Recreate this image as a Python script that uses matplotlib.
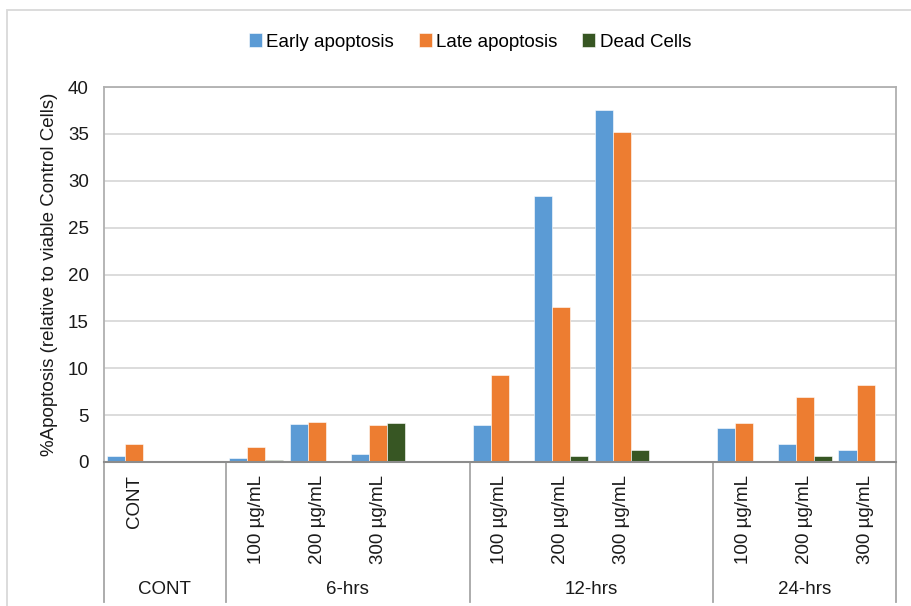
import matplotlib.pyplot as plt
import numpy as np

plt.rcParams['font.family'] = ['Liberation Sans', 'DejaVu Sans']

# categories (blank slots between groups, like the Excel sheet)
doses = ['CONT', '', '100 µg/mL', '200 µg/mL', '300 µg/mL', '',
         '100 µg/mL', '200 µg/mL', '300 µg/mL', '',
         '100 µg/mL', '200 µg/mL', '300 µg/mL']
groups = ['CONT', '6-hrs', '12-hrs', '24-hrs']
group_edges = [-0.5, 1.5, 5.5, 9.5, 12.5]

early = [0.6, 0, 0.4, 4.1, 0.9, 0, 3.95, 28.4, 37.5, 0, 3.6, 1.9, 1.25]
late = [1.95, 0, 1.55, 4.3, 3.9, 0, 9.3, 16.5, 35.2, 0, 4.15, 6.95, 8.2]
dead = [0, 0, 0.2, 0.1, 4.15, 0, 0, 0.6, 1.3, 0, 0, 0.6, 0]

series = [('Early apoptosis', early, '#5B9BD5'),
          ('Late apoptosis', late, '#ED7D31'),
          ('Dead Cells', dead, '#375623')]

fig = plt.figure(figsize=(9.11, 6.06), dpi=100)
ax = fig.add_axes([104/911, 1 - 462/606, 792/911, 375/606])

x = np.arange(len(doses))
w = 0.296
for k, (name, vals, col) in enumerate(series):
    ax.bar(x + (k - 1) * w, vals, w, color=col, label=name,
           edgecolor='white', linewidth=0.4, zorder=3)

ax.set_xlim(-0.5, 12.5)
ax.set_ylim(0, 40)
ax.set_yticks(np.arange(0, 41, 5))
ax.tick_params(axis='y', length=0, pad=11, labelsize=13.5, colors='#1a1a1a')
ax.set_xticks([])
ax.yaxis.grid(True, color='#D9D9D9', linewidth=1.3, zorder=0)
ax.set_axisbelow(True)
for s in ['top', 'right', 'left']:
    ax.spines[s].set_color('#B0B0B0')
    ax.spines[s].set_linewidth(1.3)
ax.spines['bottom'].set_color('#8C8C8C')
ax.spines['bottom'].set_linewidth(1.5)
ax.spines['bottom'].set_zorder(4)

ax.set_ylabel('%Apoptosis (relative to viable Control Cells)', fontsize=13.5,
              color='#1a1a1a', labelpad=7)

# multi-level category axis
trans = ax.get_xaxis_transform()
for i, lab in enumerate(doses):
    if lab:
        ax.text(i, -0.035, lab, transform=trans, rotation=90, ha='center',
                va='top', fontsize=13.5, color='#1a1a1a')
for g, name in enumerate(groups):
    mid = (group_edges[g] + group_edges[g + 1]) / 2
    ax.text(mid, -0.341, name, transform=trans, ha='center', va='center',
            fontsize=13.5, color='#1a1a1a')
for e in group_edges:
    ax.plot([e, e], [0, -0.373], transform=trans, color='#A6A6A6',
            linewidth=1.3, clip_on=False)

# chart area border
fig.add_artist(plt.Rectangle((7/911, -0.1), 1.2, 1.1 - 10/606, transform=fig.transFigure,
                             fill=False, edgecolor='#D9D9D9', linewidth=1.3))

fig.legend(loc='center', bbox_to_anchor=(470/911, 1 - 42/606), ncol=3,
           frameon=False, fontsize=13.5, handlelength=0.7, handleheight=0.7,
           handletextpad=0.25, columnspacing=1.3)

fig.savefig('out.png', dpi=100)
